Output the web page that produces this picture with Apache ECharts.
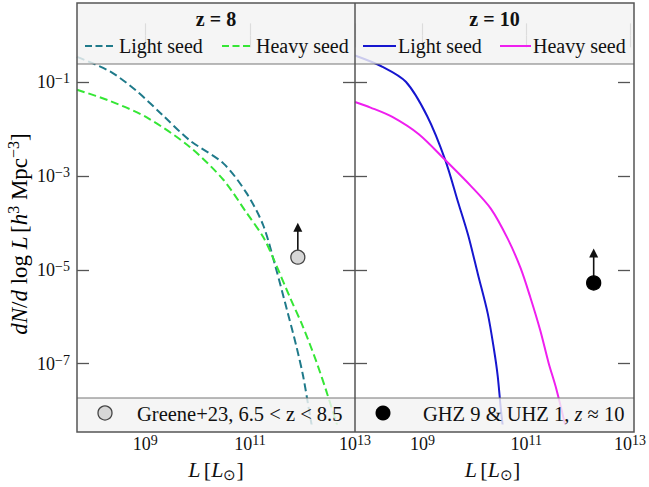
<!DOCTYPE html>
<html><head><meta charset="utf-8">
<script src="https://cdn.jsdelivr.net/npm/echarts@6/dist/echarts.min.js"></script>
<style>html,body{margin:0;padding:0;background:#fff}#c{width:649px;height:487px}</style>
</head><body><div id="c"></div>
<script>
// ---- data (log10 L, log10 dN/dlogL) ----
const xTicks = [9, 11, 13];
const yTicks = [-1, -3, -5, -7];
const panelTitles = ['z = 8', 'z = 10'];
const seriesNames = ['Light seed', 'Heavy seed'];
const z8Light = [[7.7,-0.46],[8.33,-0.77],[8.84,-1.19],[9.34,-1.71],[9.85,-2.24],[10.49,-2.73],[10.93,-3.36],[11.25,-4.05],[11.50,-5.00],[11.69,-5.80],[11.88,-6.62],[12.01,-7.26],[12.11,-7.90],[12.18,-8.35]];
const z8Heavy = [[7.7,-1.16],[8.33,-1.40],[9.03,-1.75],[9.85,-2.38],[10.49,-3.08],[10.93,-3.78],[11.25,-4.30],[11.44,-4.75],[11.76,-5.59],[12.01,-6.22],[12.27,-6.98],[12.46,-7.61],[12.67,-8.35]];
const z10Light = [[7.7,-0.43],[8.23,-0.67],[8.68,-0.99],[9.09,-1.72],[9.44,-2.66],[9.69,-3.57],[9.88,-4.26],[10.07,-5.10],[10.26,-5.94],[10.38,-6.71],[10.45,-7.26],[10.51,-7.96],[10.55,-8.35]];
const z10Heavy = [[7.7,-1.42],[8.0,-1.54],[8.42,-1.74],[8.93,-2.11],[9.44,-2.66],[9.94,-3.22],[10.32,-3.70],[10.64,-4.33],[10.89,-4.96],[11.08,-5.59],[11.27,-6.29],[11.43,-6.98],[11.58,-7.54],[11.76,-8.35]];
const greene23 = [[11.91,-4.73]];
const ghzUhz = [[12.30,-5.28]];
const obsLabels = ['Greene+23, 6.5 < z < 8.5', 'GHZ 9 & UHZ 1, {i|z} \u2248 10'];

// ---- layout / style ----
const FONT = 'Liberation Serif';
const XMIN = 7.7, XMAX = 13, YMIN = -8.28, YMAX = 0.69;
const ARROW_DEX = 0.64;
const G = [{left:77, top:3, width:278, height:429}, {left:355, top:3, width:279, height:429}];
const C = {teal:'#1f7a8a', green:'#35e635', blue:'#1616cf', magenta:'#ef1fef'};

function tickFmt(v){ const e = v < 0 ? '\u2212' + Math.abs(v) : String(v); return '{b|10}{s|' + e + '}'; }
const tickRich = {
  b:{fontFamily:FONT, fontSize:18, lineHeight:21, color:'#111'},
  s:{fontFamily:FONT, fontSize:14, lineHeight:13, verticalAlign:'top', color:'#111'}
};
const nameRich = {
  n:{fontFamily:FONT, fontSize:22, lineHeight:26, color:'#111'},
  i:{fontFamily:FONT, fontSize:22, lineHeight:26, fontStyle:'italic', color:'#111'},
  sub:{fontFamily:FONT, fontSize:15, lineHeight:14, verticalAlign:'bottom', color:'#111'},
  s:{fontFamily:FONT, fontSize:15, lineHeight:14, verticalAlign:'top', color:'#111'}
};
const yNameRich = {
  n:{fontFamily:FONT, fontSize:23, lineHeight:27, color:'#111'},
  i:{fontFamily:FONT, fontSize:23, lineHeight:27, fontStyle:'italic', color:'#111'},
  s:{fontFamily:FONT, fontSize:16, lineHeight:15, verticalAlign:'top', color:'#111'}
};

const xAxes = [], yAxes = [];
[0,1].forEach(g => {
  const base = {type:'value', gridIndex:g, min:XMIN, max:XMAX, splitLine:{show:false}, axisLine:{show:false}};
  xAxes.push(Object.assign({}, base, {position:'bottom',
    axisTick:{show:true, inside:true, length:12, customValues:xTicks, lineStyle:{color:'#777', width:1.2}},
    axisLabel:{show:true, customValues:xTicks, formatter:tickFmt, rich:tickRich, margin:10},
    name:'{i|L} {n|[}{i|L}{sub|\u2299}{n|]}', nameLocation:'middle', nameGap:30,
    nameTextStyle:{rich:nameRich}}));
  xAxes.push(Object.assign({}, base, {position:'top',
    axisTick:{show:true, inside:true, length:12, customValues:xTicks, lineStyle:{color:'#777', width:1.2}},
    axisLabel:{show:false}}));
  const ybase = {type:'value', gridIndex:g, min:YMIN, max:YMAX, splitLine:{show:false}, axisLine:{show:false}};
  yAxes.push(Object.assign({}, ybase, {position:'left',
    axisTick:{show:true, inside:true, length:12, customValues:yTicks, lineStyle:{color:'#555', width:1.3}},
    axisLabel:{show:g === 0, customValues:yTicks, formatter:tickFmt, rich:tickRich, margin:7}}));
  yAxes.push(Object.assign({}, ybase, {position:'right',
    axisTick:{show:true, inside:true, length:12, customValues:yTicks, lineStyle:{color:'#555', width:1.3}},
    axisLabel:{show:false}}));
});

function curve(name, data, g, color, dashed){
  return {type:'line', name, data, xAxisIndex:2*g, yAxisIndex:2*g, symbol:'none', showSymbol:false,
    smooth:0.3, clip:true, silent:true, z:2,
    lineStyle:{color, width:2, type: dashed ? [8,4] : 'solid'}};
}
function lowerLimit(pts, g, fill, border){
  const tips = pts.map(p => [p[0], p[1] + ARROW_DEX]);
  const out = [];
  pts.forEach((p, k) => out.push({type:'line', data:[p, tips[k]], xAxisIndex:2*g, yAxisIndex:2*g,
    symbol:'none', silent:true, z:3, lineStyle:{color:'#111', width:1.6}}));
  out.push({type:'scatter', data:tips, xAxisIndex:2*g, yAxisIndex:2*g, symbol:'triangle',
    symbolSize:[9,9], silent:true, z:4, itemStyle:{color:'#111', opacity:1}});
  out.push({type:'scatter', data:pts, xAxisIndex:2*g, yAxisIndex:2*g, symbol:'circle',
    symbolSize:14, silent:true, z:5, itemStyle:{color:fill, borderColor:border, borderWidth:1.3, opacity:1}});
  return out;
}

const series = [
  curve(seriesNames[0], z8Light, 0, C.teal, true),
  curve(seriesNames[1], z8Heavy, 0, C.green, true),
  curve(seriesNames[0], z10Light, 1, C.blue, false),
  curve(seriesNames[1], z10Heavy, 1, C.magenta, false),
  ...lowerLimit(greene23, 0, '#d6d6d6', '#444'),
  ...lowerLimit(ghzUhz, 1, '#000', '#000')
];

// ---- graphic overlays: header/footer boxes, frame, legends ----
const L = G[0].left, R = G[1].left + G[1].width, T = G[0].top, B = G[0].top + G[0].height;
const HB = 64, FT = 398;
const txt = (x, y, text, extra) => Object.assign({type:'text', x, y, z:130,
  style:Object.assign({text, fontFamily:FONT, fontSize:20, fill:'#111', align:'left', verticalAlign:'middle'}, extra || {})});
const seg = (x1, x2, y, color, dashed) => ({type:'line', z:130,
  shape:{x1, y1:y, x2, y2:y}, style:{stroke:color, lineWidth:2, lineDash: dashed ? [7,3.5] : null}});

const graphic = [
  {type:'rect', z:100, shape:{x:L, y:T, width:R-L, height:HB-T}, style:{fill:'rgba(243,243,243,0.82)'}},
  {type:'rect', z:100, shape:{x:L, y:FT, width:R-L, height:B-FT}, style:{fill:'rgba(243,243,243,0.82)'}},
  {type:'line', z:110, shape:{x1:L, y1:HB, x2:R, y2:HB}, style:{stroke:'#777', lineWidth:1.2}},
  {type:'line', z:110, shape:{x1:L, y1:FT, x2:R, y2:FT}, style:{stroke:'#777', lineWidth:1.2}},
  {type:'rect', z:120, shape:{x:L, y:T, width:R-L, height:B-T}, style:{fill:'none', stroke:'#555', lineWidth:1.5}},
  {type:'line', z:120, shape:{x1:G[1].left, y1:T, x2:G[1].left, y2:B}, style:{stroke:'#555', lineWidth:1.5}},
  // titles
  txt(G[0].left + G[0].width/2, 19, panelTitles[0], {align:'center', fontWeight:'bold', fontSize:20}),
  txt(G[1].left + G[1].width/2, 19, panelTitles[1], {align:'center', fontWeight:'bold', fontSize:20}),
  // legends
  seg(85, 116, 46, C.teal, true), txt(119, 46, seriesNames[0]),
  seg(222, 253, 46, C.green, true), txt(256, 46, seriesNames[1]),
  seg(363, 396, 46, C.blue, false), txt(398, 46, seriesNames[0]),
  seg(500, 531, 46, C.magenta, false), txt(533, 46, seriesNames[1]),
  // footer legends
  {type:'circle', z:130, shape:{cx:105, cy:413, r:7}, style:{fill:'#d6d6d6', stroke:'#444', lineWidth:1.3}},
  txt(137, 414, obsLabels[0], {fontSize:20.5}),
  {type:'circle', z:130, shape:{cx:383, cy:413, r:7.5}, style:{fill:'#000'}},
  txt(423, 414, obsLabels[1], {fontSize:20.5, rich:{i:{fontFamily:FONT, fontSize:20.5, fontStyle:'italic', fill:'#111'}}}),
  // y axis title
  {type:'text', z:130, x:19, y:234, rotation:Math.PI/2,
    style:{text:'{i|dN}{n|/}{i|d}{n| log }{i|L} {n|[}{i|h}{s|3}{n| Mpc}{s|\u22123}{n|]}', rich:yNameRich,
      align:'center', verticalAlign:'middle'}}
];

const chart = echarts.init(document.getElementById('c'), null, {renderer:'svg', width:649, height:487});
chart.setOption({
  animation:false,
  backgroundColor:'#fff',
  grid:G.map(g => Object.assign({containLabel:false}, g)),
  xAxis:xAxes, yAxis:yAxes, series, graphic
});
</script></body></html>
